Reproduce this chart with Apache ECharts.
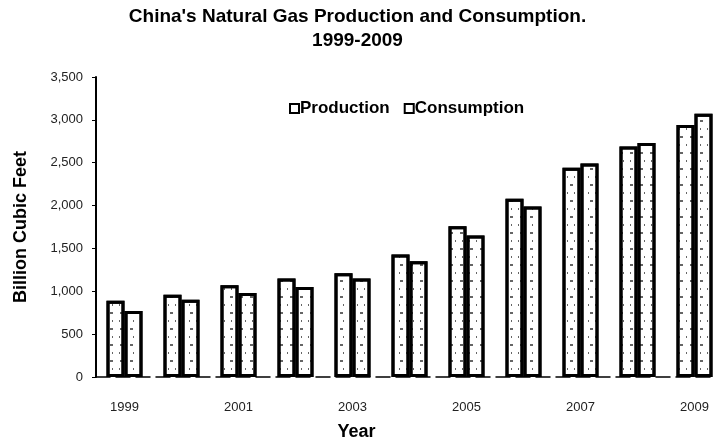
<!DOCTYPE html>
<html>
<head>
<meta charset="utf-8">
<script src="https://cdn.jsdelivr.net/npm/echarts@6/dist/echarts.min.js"></script>
<style>
  html, body { margin: 0; padding: 0; background: #fff; }
  #container { width: 715px; height: 443px; }
</style>
</head>
<body>
<div id="container"></div>
<script>
// data (billion cubic feet)
var years = ['1999', '2000', '2001', '2002', '2003', '2004', '2005', '2006', '2007', '2008', '2009'];
var production = [890, 960, 1070, 1150, 1210, 1430, 1760, 2080, 2440, 2690, 2940];
var consumption = [770, 900, 980, 1050, 1150, 1350, 1650, 1990, 2490, 2730, 3070];
var seriesNames = ['Production', 'Consumption'];

var chart = echarts.init(document.getElementById('container'));

// speckled texture like the scanned bars
var texture = {
  symbol: 'rect',
  symbolSize: 1,
  dashArrayX: [[3, 7], [1, 6]],
  dashArrayY: [1.5, 6],
  color: 'rgba(0,0,0,0.6)',
  rotation: 0
};

var barStyle = {
  color: '#fff',
  borderColor: '#000',
  borderWidth: 3,
  decal: texture
};

var option = {
  backgroundColor: '#fff',
  animation: false,
  textStyle: { fontFamily: 'Liberation Sans, Arial, sans-serif' },
  title: {
    text: "China's Natural Gas Production and Consumption.\n1999-2009",
    left: 'center',
    top: 0,
    textStyle: { fontSize: 19, fontWeight: 'bold', color: '#000', lineHeight: 24 }
  },
  legend: {
    data: seriesNames,
    left: 284,
    top: 95,
    icon: 'rect',
    itemWidth: 9,
    itemHeight: 9,
    itemGap: 14,
    itemStyle: { color: '#fff', borderColor: '#000', borderWidth: 2, decal: 'none' },
    textStyle: { fontSize: 17, fontWeight: 'bold', color: '#000', padding: [0, 0, 0, -4] }
  },
  grid: {
    left: 96,
    top: 77,
    width: 627,
    height: 300,
    outerBoundsMode: 'none'
  },
  xAxis: {
    type: 'category',
    data: years,
    name: 'Year',
    nameLocation: 'middle',
    nameGap: 46,
    nameTextStyle: { fontSize: 18, fontWeight: 'bold', color: '#000', padding: [0, 106, 0, 0] },
    axisLine: { lineStyle: { color: '#000', width: 1.5, type: [14, 6] } },
    axisTick: { show: false },
    axisLabel: { interval: 1, color: '#222', fontSize: 13, margin: 24 },
    splitLine: { show: false }
  },
  yAxis: {
    type: 'value',
    min: 0,
    max: 3500,
    interval: 500,
    name: 'Billion Cubic Feet',
    nameLocation: 'middle',
    nameGap: 66,
    nameTextStyle: { fontSize: 18, fontWeight: 'bold', color: '#000' },
    axisLine: { show: true, lineStyle: { color: '#000', width: 2 } },
    axisTick: { show: true, length: 4, lineStyle: { color: '#000' } },
    axisLabel: {
      color: '#222',
      fontSize: 13,
      margin: 13,
      formatter: function (v) { return v.toLocaleString('en-US'); }
    },
    splitLine: { show: false }
  },
  series: [
    {
      name: seriesNames[0],
      type: 'bar',
      data: production,
      barWidth: 18,
      barGap: '0%',
      itemStyle: barStyle
    },
    {
      name: seriesNames[1],
      type: 'bar',
      data: consumption,
      barWidth: 18,
      barGap: '0%',
      itemStyle: barStyle
    }
  ]
};

chart.setOption(option);
</script>
</body>
</html>
